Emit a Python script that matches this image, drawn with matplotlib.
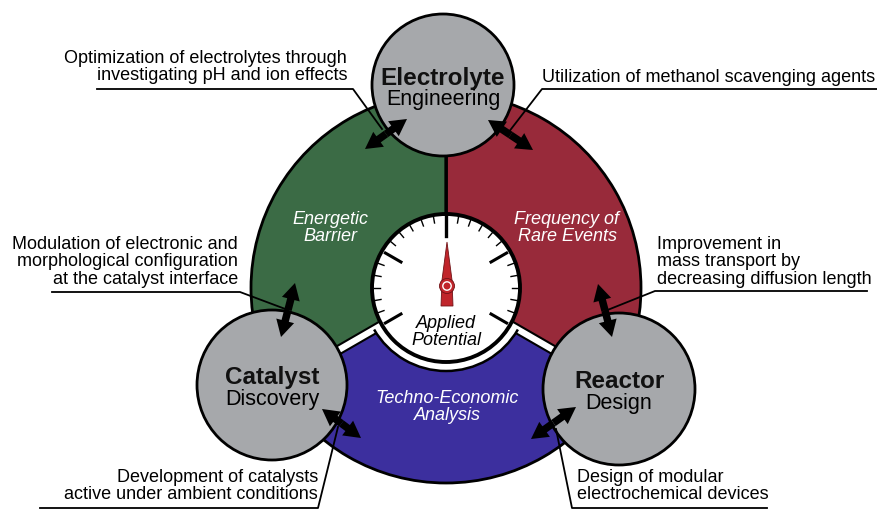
"""
plot.py
Recreates the "applied potential" dial diagram: three sectors around a gauge,
three grey driver circles, double arrows and leader-lined annotations.
"""

import numpy as np
import matplotlib.pyplot as plt
from matplotlib.patches import Wedge, Circle, Polygon, FancyArrowPatch, Arc

# ---------------------------------------------------------------------
# Content
# ---------------------------------------------------------------------
sector_labels = ["Energetic\nBarrier", "Frequency of\nRare Events", "Techno-Economic\nAnalysis"]
sector_colors = ["#3b6b45", "#982a3a", "#3c2f9e"]
sector_spans = [(90, 210), (-30, 90), (210, 330)]  # visual degrees

node_titles = ["Electrolyte", "Catalyst", "Reactor"]
node_subtitles = ["Engineering", "Discovery", "Design"]

notes = [
    "Optimization of electrolytes through\ninvestigating pH and ion effects",
    "Utilization of methanol scavenging agents",
    "Modulation of electronic and\nmorphological configuration\nat the catalyst interface",
    "Improvement in\nmass transport by\ndecreasing diffusion length",
    "Development of catalysts\nactive under ambient conditions",
    "Design of modular\nelectrochemical devices",
]

gauge_label = "Applied\nPotential"

FONT = "Liberation Sans"
W, H = 877, 510
CX, CY = 446, 289      # gauge / disk centre (pixels)
R_DISK, R_GAUGE = 195, 74


def pt(r, phi):
    a = np.radians(phi)
    return CX + r * np.cos(a), CY - r * np.sin(a)


fig = plt.figure(figsize=(W / 100, H / 100), dpi=100)
ax = fig.add_axes([0, 0, 1, 1])
ax.set_xlim(0, W)
ax.set_ylim(H, 0)
ax.set_aspect("equal")
ax.axis("off")

# ---------------------------------------------------------------------
# Sectors (y axis is inverted, so visual angle phi -> data angle -phi)
# ---------------------------------------------------------------------
for (a, b), col in zip(sector_spans, sector_colors):
    ax.add_patch(Wedge((CX, CY), R_DISK, -b, -a, facecolor=col,
                       edgecolor="black", lw=2, zorder=1))

# white bands separating the blue sector
for phi in (210, 330):
    p0, p1 = pt(R_GAUGE, phi), pt(R_DISK - 1, phi)
    ax.plot([p0[0], p1[0]], [p0[1], p1[1]], color="black", lw=7.5,
            solid_capstyle="butt", zorder=2)
    ax.plot([p0[0], p1[0]], [p0[1], p1[1]], color="white", lw=4.5,
            solid_capstyle="butt", zorder=3)
ax.add_patch(Wedge((CX, CY), R_GAUGE + 9, -330, -210, facecolor="white",
                   edgecolor="none", zorder=3))
ax.add_patch(Arc((CX, CY), 2 * (R_GAUGE + 9), 2 * (R_GAUGE + 9),
                 theta1=-330, theta2=-210, color="black", lw=1.8, zorder=3))

# green / red divider
p0, p1 = pt(R_GAUGE, 90), pt(R_DISK, 90)
ax.plot([p0[0], p1[0]], [p0[1], p1[1]], color="black", lw=2, zorder=2)

# ---------------------------------------------------------------------
# Gauge
# ---------------------------------------------------------------------
ax.add_patch(Circle((CX, CY), R_GAUGE, facecolor="white", edgecolor="black",
                    lw=2.8, zorder=4))
for phi in np.arange(-30, 211, 10):
    if phi % 60 == 30:
        continue
    q0, q1 = pt(R_GAUGE - 2, phi), pt(R_GAUGE - 8, phi)
    ax.plot([q0[0], q1[0]], [q0[1], q1[1]], color="black", lw=1, zorder=5)
for phi in (-30, 30, 150, 210):
    q0, q1 = pt(R_GAUGE - 4, phi), pt(R_GAUGE - 22, phi)
    ax.plot([q0[0], q1[0]], [q0[1], q1[1]], color="black", lw=2.2, zorder=5)
q0, q1 = pt(R_GAUGE, 90), pt(R_GAUGE - 22, 90)
ax.plot([q0[0], q1[0]], [q0[1], q1[1]], color="black", lw=2.4, zorder=5)

# needle
nx, ny = CX + 1, CY - 2
needle = Polygon([(nx, ny - 44), (nx - 5, ny - 6), (nx - 6, ny + 20),
                  (nx + 6, ny + 20), (nx + 5, ny - 6)], closed=True,
                 facecolor="#c0252b", edgecolor="#701216", lw=0.6, zorder=6)
ax.add_patch(needle)
ax.add_patch(Circle((nx, ny), 7.5, facecolor="#c0252b", edgecolor="#701216",
                    lw=0.6, zorder=7))
ax.add_patch(Circle((nx, ny), 4.2, facecolor="none", edgecolor="white",
                    lw=1.0, zorder=8))

ax.text(CX, 332, gauge_label, ha="center", va="center", fontsize=13,
        style="italic", family=FONT, color="black", linespacing=0.95, zorder=8)

# sector labels
label_pos = [(330, 228), (567, 228), (447, 407)]
for txt, (x, y) in zip(sector_labels, label_pos):
    ax.text(x, y, txt, ha="center", va="center", fontsize=13, style="italic",
            family=FONT, color="white", linespacing=1.0, zorder=8)

# ---------------------------------------------------------------------
# Grey driver circles
# ---------------------------------------------------------------------
node_pos = [(443, 86, 71), (272, 386, 75), (619, 390, 76)]
for (x, y, r), t1, t2 in zip(node_pos, node_titles, node_subtitles):
    ax.add_patch(Circle((x, y), r, facecolor="#a6a8ab", edgecolor="black",
                        lw=2, zorder=9))
    ax.text(x, y - 8, t1, ha="center", va="center", fontsize=17.5,
            weight="bold", family=FONT, color="#111111", zorder=10)
    ax.text(x, y + 14, t2, ha="center", va="center", fontsize=15.5,
            family=FONT, color="black", zorder=10)

# ---------------------------------------------------------------------
# Double arrows: two filled single-headed arrows from the midpoint
# ---------------------------------------------------------------------
arrows = [((365, 150), (407, 120)), ((488, 121), (533, 151)),
          ((295, 284), (281, 338)), ((322, 410), (361, 439)),
          ((598, 285), (612, 338)), ((531, 440), (576, 408))]
for a, b in arrows:
    mid = ((a[0] + b[0]) / 2, (a[1] + b[1]) / 2)
    for end in (a, b):
        ax.add_patch(FancyArrowPatch(mid, end,
                                     arrowstyle="simple,head_length=1.0,head_width=1.1,tail_width=0.45",
                                     mutation_scale=12, lw=0, color="black",
                                     shrinkA=0, shrinkB=0, zorder=12))

# ---------------------------------------------------------------------
# Annotations with leader lines
# ---------------------------------------------------------------------
leaders = [
    [(97, 90), (353, 90), (382, 130)],
    [(877, 90), (542, 90), (508, 134)],
    [(52, 293), (240, 293), (288, 311)],
    [(867, 292), (655, 292), (605, 312)],
    [(40, 509), (318, 509), (338, 428)],
    [(767, 509), (572, 509), (556, 430)],
]
for line in leaders:
    xs, ys = zip(*line)
    ax.plot(xs, ys, color="black", lw=1.3, zorder=11)

note_pos = [(347, 67, "right"), (542, 77, "left"), (238, 262, "right"),
            (657, 262, "left"), (318, 486, "right"), (577, 486, "left")]
for txt, (x, y, ha) in zip(notes, note_pos):
    ax.text(x, y, txt, ha=ha, va="center", fontsize=13, family=FONT,
            color="black", linespacing=1.05, multialignment=ha, zorder=11)

fig.savefig("out.png", dpi=100)
